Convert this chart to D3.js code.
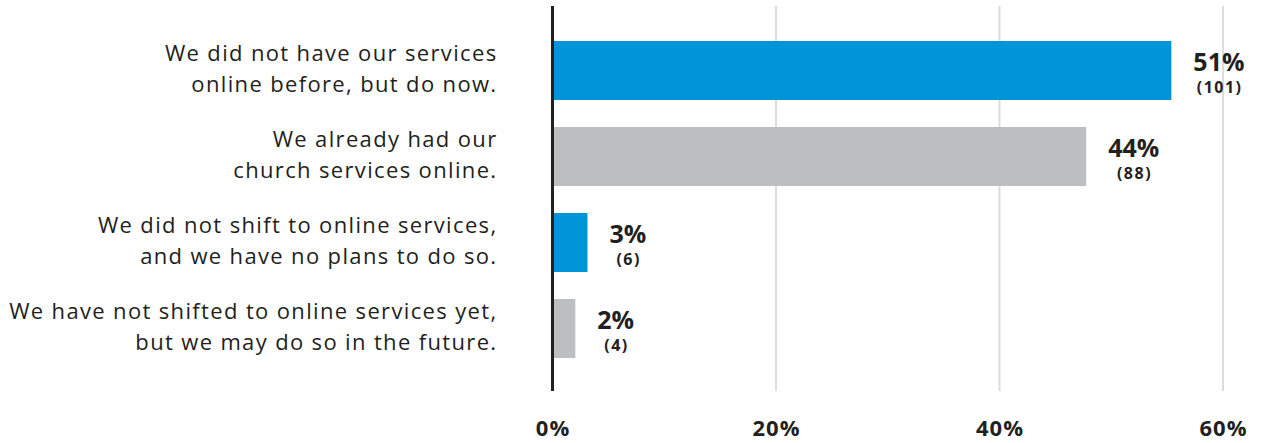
<!DOCTYPE html>
<html>
<head>
<meta charset="utf-8">
<script src="https://cdn.jsdelivr.net/npm/d3@7"></script>
<style>
  html, body { margin: 0; padding: 0; background: #fff; }
  svg { display: block; }
  text { font-family: "Open Sans", "Noto Sans", sans-serif; fill: #231f20; }
</style>
</head>
<body>
<svg id="chart" width="1262" height="443"></svg>
<script>
// Survey answers, top to bottom
const categories = [
  ["We did not have our services", "online before, but do now."],
  ["We already had our", "church services online."],
  ["We did not shift to online services,", "and we have no plans to do so."],
  ["We have not shifted to online services yet,", "but we may do so in the future."]
];
const percents = [51, 44, 3, 2];
const counts = [101, 88, 6, 4];
const tickLabels = ["0%", "20%", "40%", "60%"];

const colors = ["#0094d8", "#bcbec0"];
const ink = "#231f20";

const svg = d3.select("#chart");

const y = d3.scaleBand()
  .domain(d3.range(categories.length))
  .range([27.5, 371.5])
  .paddingInner(0.314)
  .paddingOuter(0.157);

const x = d3.scaleLinear().domain([0, 55]).range([551, 1220]);

// Gridlines with evenly spaced tick labels along the bottom
const gx = d3.scalePoint().domain(tickLabels).range([552.5, 1223]);

svg.append("g").selectAll("line")
  .data(tickLabels.slice(1))
  .join("line")
  .attr("x1", d => gx(d)).attr("x2", d => gx(d))
  .attr("y1", 6).attr("y2", 391)
  .attr("stroke", "#dcdcdc").attr("stroke-width", 2);

svg.append("g").selectAll("text")
  .data(tickLabels)
  .join("text")
  .attr("x", d => gx(d) + 0.5)
  .attr("y", 436)
  .attr("text-anchor", "middle")
  .attr("font-size", 22)
  .attr("font-weight", 700)
  .attr("letter-spacing", 1)
  .text(d => d);

// Bars
svg.append("g").selectAll("rect")
  .data(percents)
  .join("rect")
  .attr("x", x(0))
  .attr("y", (d, i) => y(i))
  .attr("width", d => x(d) - x(0))
  .attr("height", y.bandwidth())
  .attr("fill", (d, i) => colors[i % 2]);

// Baseline axis
svg.append("line")
  .attr("x1", 552.5).attr("x2", 552.5)
  .attr("y1", 6).attr("y2", 391)
  .attr("stroke", ink).attr("stroke-width", 3);

// Category labels
const cat = svg.append("g").selectAll("text")
  .data(categories)
  .join("text")
  .attr("text-anchor", "end")
  .attr("font-size", 22)
  .attr("letter-spacing", 1.35)
  .attr("y", (d, i) => y(i) + y.bandwidth() / 2 - 10);
cat.selectAll("tspan")
  .data(d => d)
  .join("tspan")
  .attr("x", 497.5)
  .attr("dy", (d, j) => j === 0 ? 0 : 31)
  .text(d => d);

// Value labels
const val = svg.append("g").selectAll("g")
  .data(percents)
  .join("g");
val.each(function(d, i) {
  const g = d3.select(this);
  const cy = y(i) + y.bandwidth() / 2;
  const pct = g.append("text")
    .attr("x", x(d) + 22)
    .attr("y", cy + 0.5)
    .attr("font-size", 25)
    .attr("font-weight", 700)
    .text(d + "%");
  const w = pct.node().getComputedTextLength();
  g.append("text")
    .attr("x", x(d) + 22 + w / 2 + 0.75)
    .attr("y", cy + 22.5)
    .attr("text-anchor", "middle")
    .attr("font-size", 16)
    .attr("font-weight", 700)
    .attr("letter-spacing", 1.5)
    .text("(" + counts[i] + ")");
});
</script>
</body>
</html>
